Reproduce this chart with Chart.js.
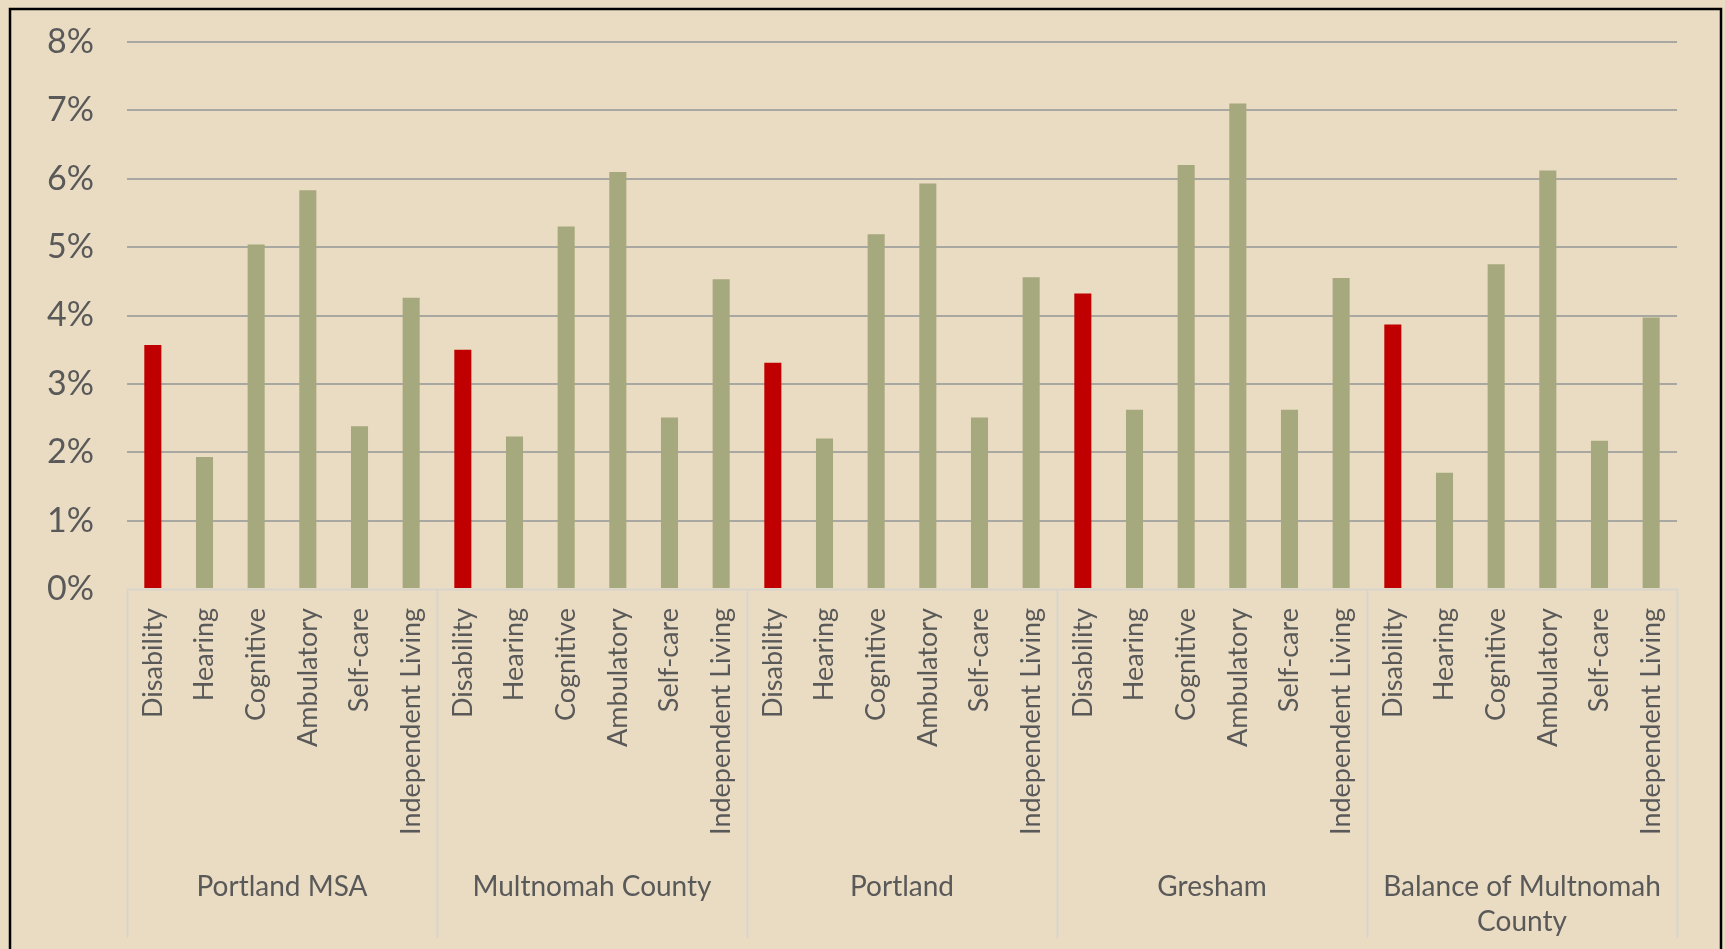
<!DOCTYPE html>
<html>
<head>
<meta charset="utf-8">
<script src="https://cdn.jsdelivr.net/npm/chart.js@4/dist/chart.umd.min.js"></script>
<style>
  html, body { margin: 0; padding: 0; background: #EADCC2; }
  #wrap { width: 1725px; height: 949px; position: relative; }
</style>
</head>
<body>
<div id="wrap"><canvas id="c" width="1725" height="949"></canvas></div>
<script>
const groups = ["Portland MSA", "Multnomah County", "Portland", "Gresham", ["Balance of Multnomah", "County"]];
const types = ["Disability", "Hearing", "Cognitive", "Ambulatory", "Self-care", "Independent Living"];
const portlandMSA = [3.57, 1.93, 5.04, 5.83, 2.38, 4.26];
const multnomahCounty = [3.50, 2.23, 5.30, 6.10, 2.51, 4.53];
const portland = [3.31, 2.20, 5.19, 5.93, 2.51, 4.56];
const gresham = [4.32, 2.62, 6.20, 7.10, 2.62, 4.55];
const balanceMultnomah = [3.87, 1.70, 4.75, 6.12, 2.17, 3.97];
const yTicks = [0, 1, 2, 3, 4, 5, 6, 7, 8];

const labels = [];
const values = [];
[portlandMSA, multnomahCounty, portland, gresham, balanceMultnomah].forEach(arr => {
  arr.forEach((v, i) => { labels.push(types[i]); values.push(v); });
});
const colors = labels.map(l => l === "Disability" ? "#C00000" : "#A5A97D");

const FONT = "Lato, 'Open Sans', sans-serif";
const TXT = "#595959";

const framePlugin = {
  id: 'frame',
  beforeDraw(chart) {
    const ctx = chart.ctx;
    ctx.save();
    ctx.fillStyle = '#EADCC2';
    ctx.fillRect(0, 0, chart.width, chart.height);
    ctx.strokeStyle = '#000000';
    ctx.lineWidth = 2.5;
    ctx.strokeRect(10, 9, 1711, 960);
    ctx.restore();
  },
  afterDraw(chart) {
    const ctx = chart.ctx;
    const xs = chart.scales.x;
    const x2 = chart.scales.x2;
    const n = labels.length;
    const step = types.length;
    ctx.save();
    ctx.strokeStyle = '#D9D4CB';
    ctx.lineWidth = 2;
    for (let g = 0; g <= n / step; g++) {
      let px;
      if (g === 0) px = xs.left;
      else if (g === n / step) px = xs.right;
      else px = (xs.getPixelForValue(g * step - 1) + xs.getPixelForValue(g * step)) / 2;
      px = Math.round(px) + 0.5;
      ctx.beginPath();
      ctx.moveTo(px, chart.chartArea.bottom);
      ctx.lineTo(px, x2.bottom);
      ctx.stroke();
    }
    ctx.beginPath();
    ctx.moveTo(xs.left, chart.chartArea.bottom + 0.5);
    ctx.lineTo(xs.right, chart.chartArea.bottom + 0.5);
    ctx.stroke();
    ctx.restore();
  }
};

new Chart(document.getElementById('c'), {
  type: 'bar',
  data: {
    labels: labels,
    datasets: [{
      data: values,
      backgroundColor: colors,
      borderWidth: 0,
      barPercentage: 0.33,
      categoryPercentage: 1.0
    }]
  },
  options: {
    responsive: false,
    animation: false,
    devicePixelRatio: 1,
    layout: { padding: { left: 0, right: 48, top: 42, bottom: 11 } },
    plugins: { legend: { display: false }, tooltip: { enabled: false } },
    scales: {
      y: {
        min: 0, max: 8,
        afterBuildTicks(scale) { scale.ticks = yTicks.map(v => ({ value: v })); },
        afterFit(scale) { scale.width = 127; scale.paddingTop = 0; scale.paddingBottom = 0; },
        border: { display: false },
        grid: {
          color: (c) => c.tick && c.tick.value === 0 ? 'rgba(0,0,0,0)' : '#A9A7A2',
          lineWidth: 2,
          drawTicks: false
        },
        ticks: {
          padding: 33,
          color: TXT,
          font: { family: FONT, size: 34 },
          callback: (v) => v + '%'
        }
      },
      x: {
        position: 'bottom',
        afterFit(scale) { scale.height = 270; scale.paddingLeft = 0; scale.paddingRight = 0; },
        border: { display: false },
        grid: { display: false, drawTicks: false },
        ticks: {
          autoSkip: false,
          minRotation: 90, maxRotation: 90,
          padding: 19,
          color: TXT,
          font: { family: FONT, size: 27 }
        }
      },
      x2: {
        type: 'category',
        position: 'bottom',
        labels: groups,
        offset: true,
        afterFit(scale) { scale.height = 79; scale.paddingLeft = 0; scale.paddingRight = 0; },
        border: { display: false },
        grid: { display: false, drawTicks: false },
        ticks: {
          autoSkip: false,
          minRotation: 0, maxRotation: 0,
          padding: 10,
          color: TXT,
          font: { family: FONT, size: 28, lineHeight: 1.25 }
        }
      }
    }
  },
  plugins: [framePlugin]
});
</script>
</body>
</html>
